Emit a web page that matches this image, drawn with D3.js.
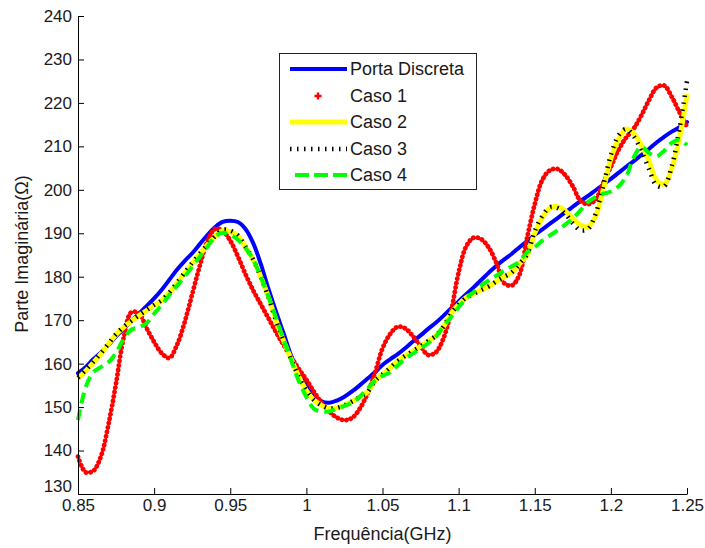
<!DOCTYPE html>
<html>
<head>
<meta charset="utf-8">
<script src="https://cdn.jsdelivr.net/npm/d3@7/dist/d3.min.js"></script>
<style>
  html, body { margin: 0; padding: 0; background: #fff; }
  svg { display: block; }
  text { font-family: "Liberation Sans", Arial, Helvetica, sans-serif; }
</style>
</head>
<body>
<svg id="chart" width="705" height="548"></svg>
<script>
// ---------------- DATA ----------------
const freq = [0.850,0.855,0.860,0.865,0.870,0.875,0.880,0.885,0.890,0.895,
              0.900,0.905,0.910,0.915,0.920,0.925,0.930,0.935,0.940,0.945,
              0.950,0.955,0.960,0.965,0.970,0.975,0.980,0.985,0.990,0.995,
              1.000,1.005,1.010,1.015,1.020,1.025,1.030,1.035,1.040,1.045,
              1.050,1.055,1.060,1.065,1.070,1.075,1.080,1.085,1.090,1.095,
              1.100,1.105,1.110,1.115,1.120,1.125,1.130,1.135,1.140,1.145,
              1.150,1.155,1.160,1.165,1.170,1.175,1.180,1.185,1.190,1.195,
              1.200,1.205,1.210,1.215,1.220,1.225,1.230,1.235,1.240,1.245,1.250];

const portaDiscreta = [157.8,159.2,161.0,162.5,164.3,166.3,168.0,169.8,171.5,173.2,
                       175.0,177.0,179.3,181.6,183.6,185.4,187.5,189.6,191.4,192.6,
                       192.9,192.6,191.0,187.8,183.0,177.3,172.0,167.0,161.8,158.0,
                       155.0,152.6,151.3,151.0,151.5,152.4,153.6,155.0,156.5,158.0,
                       159.7,161.0,162.2,163.6,165.1,166.5,168.0,169.4,171.0,172.7,
                       174.3,176.0,177.6,179.3,181.0,182.6,184.0,185.3,186.8,188.2,
                       189.6,190.9,192.2,193.5,194.8,196.1,197.4,198.6,199.9,201.2,
                       202.5,203.9,205.3,206.6,208.0,209.4,210.9,212.2,213.4,214.4,215.6];

const caso1 = [138.6,135.0,135.3,138.6,146.0,155.5,166.0,171.8,171.6,168.2,
               165.0,162.4,161.3,164.3,169.5,176.0,182.5,188.2,191.0,190.6,
               188.3,184.7,180.6,176.9,173.7,170.5,167.3,164.3,161.5,158.8,
               156.3,153.5,151.0,149.0,147.6,147.0,147.5,149.6,153.0,157.8,
               163.5,166.8,168.5,168.1,166.3,164.0,162.0,162.6,165.8,172.0,
               181.0,187.0,189.0,188.6,186.6,183.0,178.5,178.0,180.5,189.0,
               196.7,202.3,204.5,204.8,203.4,200.8,197.5,196.7,197.8,201.6,
               205.3,209.2,212.0,214.1,217.1,220.6,223.5,224.0,221.4,217.9,214.5];

const caso2 = [156.6,158.3,160.2,162.2,164.5,166.7,168.4,169.7,171.0,172.2,
               173.4,174.5,176.3,178.5,180.8,183.1,185.2,187.3,189.2,190.6,
               190.4,189.4,186.8,184.0,180.0,175.4,170.0,165.3,161.0,157.0,
               153.8,151.6,150.4,149.7,149.8,150.4,151.3,152.3,153.4,156.0,
               157.5,159.0,160.6,161.8,162.9,164.0,165.2,166.4,168.5,171.5,
               173.6,175.2,176.1,177.0,177.8,179.0,180.0,181.0,183.0,185.0,
               190.0,193.6,195.8,196.1,195.2,193.4,191.9,191.5,194.0,200.0,
               207.2,211.6,214.0,213.0,210.3,206.7,202.2,201.3,205.0,211.8,222.0];

const caso3 = [156.8,158.5,160.4,162.4,164.6,166.8,168.5,169.8,171.1,172.3,
               173.5,174.6,176.4,178.6,180.9,183.2,185.3,187.4,189.3,190.8,
               190.6,189.5,186.9,184.0,180.0,175.4,170.0,165.3,161.0,157.0,
               153.8,151.6,150.4,149.7,149.8,150.4,151.3,152.3,153.4,156.0,
               157.5,159.0,160.6,161.8,162.9,164.0,165.2,166.4,168.5,171.5,
               173.6,175.2,176.1,177.0,177.8,179.0,180.0,181.0,183.0,185.2,
               190.5,194.0,196.0,195.8,194.5,192.3,190.7,191.0,194.5,201.0,
               208.0,212.5,214.0,212.3,209.0,204.8,201.0,200.8,205.5,214.0,225.0];

const caso4 = [147.0,154.5,158.0,159.2,160.3,162.5,165.7,167.8,168.4,169.3,
               171.5,173.5,175.8,177.9,180.0,182.3,184.6,186.9,189.2,190.1,
               189.6,188.5,186.6,184.0,180.0,175.5,170.6,165.5,160.8,156.0,
               152.3,149.6,149.0,149.0,149.6,150.3,151.0,152.4,154.2,156.0,
               157.2,158.0,159.6,161.2,162.3,163.5,164.7,166.2,168.6,170.7,
               173.0,175.0,176.5,178.0,179.2,180.3,181.4,182.4,183.5,185.6,
               186.8,188.3,189.5,190.7,192.0,193.4,195.3,197.2,198.3,199.1,
               199.6,200.8,203.0,207.5,209.9,208.5,207.7,209.0,210.8,211.5,210.3];

const xTicks = [0.85,0.9,0.95,1,1.05,1.1,1.15,1.2,1.25];
const xTickLabels = ["0.85","0.9","0.95","1","1.05","1.1","1.15","1.2","1.25"];
const yTicks = [130,140,150,160,170,180,190,200,210,220,230,240];
const seriesNames = ["Porta Discreta","Caso 1","Caso 2","Caso 3","Caso 4"];
const xLabel = "Frequência(GHz)";
const yLabel = "Parte Imaginária(Ω)";

// ---------------- CHART ----------------
const svg = d3.select("#chart");
const x = d3.scaleLinear().domain([0.85, 1.25]).range([78, 687]);
const y = d3.scaleLinear().domain([130, 240]).range([494, 16]);

const styles = [
  { color: "#0000ff", width: 4,   dash: null,       cap: "round" },
  { color: "#ff0000", width: 4.8, dash: "0.1 4.4",  cap: "round" },
  { color: "#ffff00", width: 5,   dash: null,       cap: "butt"  },
  { color: "#000000", width: 4.5, dash: "1.5 5.5",  cap: "butt"  },
  { color: "#00ff00", width: 4,   dash: "11 6",     cap: "butt"  }
];
const allSeries = [portaDiscreta, caso1, caso2, caso3, caso4];

const line = d3.line()
  .x((d, i) => x(freq[i]))
  .y(d => y(d))
  .curve(d3.curveCatmullRom.alpha(0.5));

const plot = svg.append("g");
allSeries.forEach((s, k) => {
  const st = styles[k];
  plot.append("path")
    .datum(s)
    .attr("d", line)
    .attr("fill", "none")
    .attr("stroke", st.color)
    .attr("stroke-width", st.width)
    .attr("stroke-linecap", st.cap)
    .attr("stroke-linejoin", "round")
    .attr("stroke-dasharray", st.dash);
});

// axes
const fontSize = "17px";
const gx = svg.append("g").attr("transform", "translate(0,494)")
  .call(d3.axisBottom(x).tickValues(xTicks)
        .tickFormat((d, i) => xTickLabels[i])
        .tickSizeInner(-6).tickSizeOuter(0).tickPadding(5));
const gy = svg.append("g").attr("transform", "translate(78,0)")
  .call(d3.axisLeft(y).tickValues(yTicks)
        .tickFormat(d3.format("d"))
        .tickSizeInner(-6).tickSizeOuter(0).tickPadding(6));
[gx, gy].forEach(g => {
  g.select(".domain").attr("stroke", "#000").attr("stroke-width", 1);
  g.selectAll(".tick line").attr("stroke", "#000");
  g.selectAll(".tick text").attr("fill", "#1a1a1a")
    .style("font-size", fontSize)
    .style("font-family", '"Liberation Sans", Arial, sans-serif');
});
// lowest y label is lifted so it clears the first x label (as in the reference)
gy.selectAll(".tick").filter(d => d === 130).select("text").attr("dy", "-0.12em");

svg.append("text")
  .attr("x", 382.5).attr("y", 540)
  .attr("text-anchor", "middle")
  .style("font-size", "18px").attr("fill", "#1a1a1a")
  .text(xLabel);

svg.append("text")
  .attr("transform", "translate(28,254) rotate(-90)")
  .attr("text-anchor", "middle")
  .style("font-size", "18px").attr("fill", "#1a1a1a")
  .text(yLabel);

// legend
const lg = svg.append("g");
lg.append("rect")
  .attr("x", 279.5).attr("y", 53.5).attr("width", 197).attr("height", 136)
  .attr("fill", "#fff").attr("stroke", "#222").attr("stroke-width", 1);
const rowY = [69, 96, 122, 149, 175];
seriesNames.forEach((name, k) => {
  const st = styles[k];
  const yy = rowY[k];
  if (k === 1) {
    lg.append("path")
      .attr("d", d3.symbol().type(d3.symbolCross).size(28)())
      .attr("transform", `translate(318,${yy})`)
      .attr("fill", st.color);
  } else {
    lg.append("line")
      .attr("x1", k === 4 ? 295 : 290).attr("x2", 347)
      .attr("y1", yy).attr("y2", yy)
      .attr("stroke", st.color)
      .attr("stroke-width", st.width)
      .attr("stroke-dasharray", k === 4 ? "14 5" : st.dash);
  }
  lg.append("text")
    .attr("x", 350).attr("y", yy)
    .attr("dy", "0.36em")
    .style("font-size", "18px").attr("fill", "#1a1a1a")
    .text(name);
});
</script>
</body>
</html>
